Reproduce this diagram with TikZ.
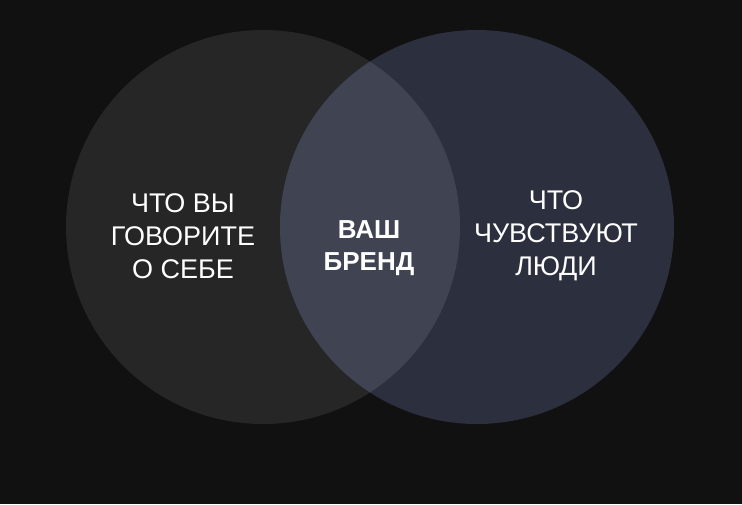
\documentclass[tikz,border=0pt]{standalone}
\usepackage{fontspec}
\setmainfont{Liberation Sans}
\usetikzlibrary{positioning}

\definecolor{bgdark}{HTML}{111111}
\definecolor{leftgray}{HTML}{262626}
\definecolor{rightblue}{HTML}{2C2F3D}
\definecolor{overlap}{HTML}{404352}

\tikzset{
  label/.style={text=white, align=center, font=\fontsize{27}{33}\selectfont},
  brand/.style={text=white, align=center, font=\bfseries\fontsize{26}{32}\selectfont}
}

\begin{document}
\begin{tikzpicture}[x=1pt,y=-1pt]

%background
\fill[bgdark] (0,0) rectangle (742,504);
\useasboundingbox (0,0) rectangle (742,504);

%circles
\coordinate (lc) at (263,227);
\coordinate (rc) at (477,227);
\fill[leftgray] (lc) circle (197);
\fill[rightblue] (rc) circle (197);
%overlap
\begin{scope}
\clip (lc) circle (197);
\fill[overlap] (rc) circle (197);
\end{scope}

%texts
\node[label] (say) at (183,236) {ЧТО ВЫ\\ГОВОРИТЕ\\О СЕБЕ};
\node[label] (feel) at (556,236) {ЧТО\\ЧУВСТВУЮТ\\ЛЮДИ};
\node[brand] (brand) at (369,248) {ВАШ\\БРЕНД};

\end{tikzpicture}
\end{document}
